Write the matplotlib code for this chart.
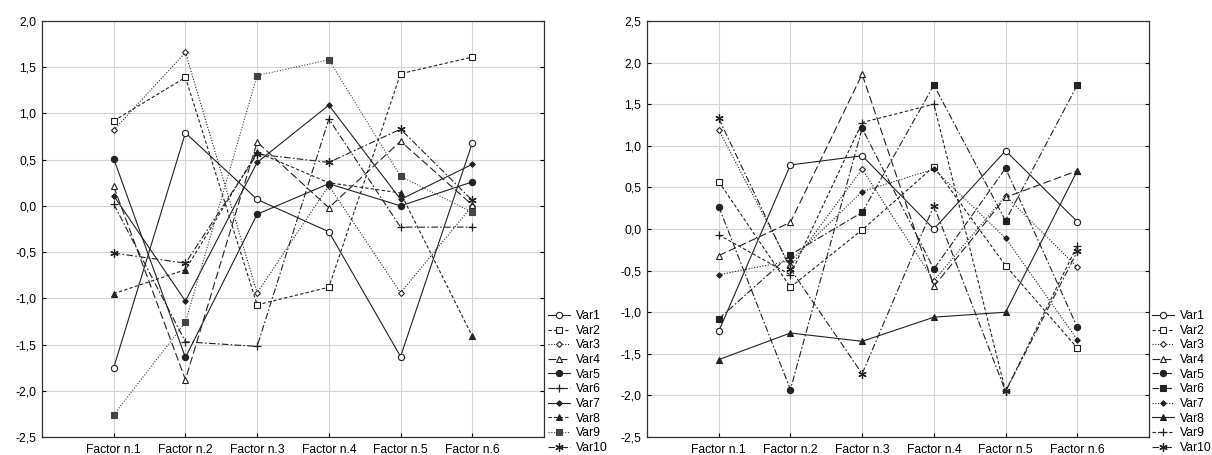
import matplotlib
matplotlib.use("Agg")
import matplotlib.pyplot as plt
from matplotlib.ticker import FuncFormatter, MultipleLocator

plt.rcParams['font.family'] = ['Liberation Sans', 'DejaVu Sans']

factors = ["Factor n.1", "Factor n.2", "Factor n.3", "Factor n.4", "Factor n.5", "Factor n.6"]
var_names = ["Var1", "Var2", "Var3", "Var4", "Var5", "Var6", "Var7", "Var8", "Var9", "Var10"]

# Left panel values
left_var1 = [-1.75, 0.79, 0.07, -0.28, -1.63, 0.68]
left_var2 = [0.92, 1.39, -1.07, -0.88, 1.43, 1.61]
left_var3 = [0.82, 1.66, -0.94, 0.22, -0.94, 0.00]
left_var4 = [0.21, -1.88, 0.69, -0.02, 0.70, 0.01]
left_var5 = [0.51, -1.64, -0.09, 0.24, 0.00, 0.26]
left_var6 = [0.02, -1.47, -1.52, 0.94, -0.23, -0.23]
left_var7 = [0.11, -1.03, 0.47, 1.09, 0.07, 0.45]
left_var8 = [-0.95, -0.69, 0.58, 0.25, 0.14, -1.41]
left_var9 = [-2.26, -1.26, 1.41, 1.58, 0.32, -0.07]
left_var10 = [-0.51, -0.62, 0.56, 0.47, 0.83, 0.06]

# Right panel values
right_var1 = [-1.23, 0.77, 0.88, 0.00, 0.94, 0.09]
right_var2 = [0.57, -0.70, -0.01, 0.75, -0.44, -1.43]
right_var3 = [1.19, -0.45, 0.72, -0.62, 0.40, -0.46]
right_var4 = [-0.32, 0.08, 1.86, -0.69, 0.38, 0.70]
right_var5 = [0.27, -1.93, 1.21, -0.48, 0.73, -1.18]
right_var6 = [-1.08, -0.31, 0.20, 1.73, 0.10, 1.73]
right_var7 = [-0.55, -0.38, 0.45, 0.72, -0.11, -1.33]
right_var8 = [-1.57, -1.25, -1.35, -1.06, -1.00, 0.70]
right_var9 = [-0.07, -0.55, 1.28, 1.50, -1.95, -0.20]
right_var10 = [1.33, -0.48, -1.74, 0.28, -1.95, -0.27]

left_values = [left_var1, left_var2, left_var3, left_var4, left_var5,
               left_var6, left_var7, left_var8, left_var9, left_var10]
right_values = [right_var1, right_var2, right_var3, right_var4, right_var5,
                right_var6, right_var7, right_var8, right_var9, right_var10]

SOLID = '-'
DASH = (0, (3, 2))
DOT = (0, (1, 1.5))
LONG = (0, (7, 3))
DASHDOT = (0, (6, 2, 1.5, 2))

# (marker, filled, linestyle, ms, color)
left_styles = [
    ('o', False, SOLID, 4.5, '#222222'),
    ('s', False, DASH, 5, '#222222'),
    ('D', False, DOT, 3, '#222222'),
    ('^', False, LONG, 4.5, '#222222'),
    ('o', True, SOLID, 4.5, '#222222'),
    ('+', True, DASHDOT, 6, '#222222'),
    ('D', True, SOLID, 2.8, '#222222'),
    ('^', True, DASH, 4.5, '#222222'),
    ('s', True, DOT, 5, '#444444'),
    ('x', True, DASHDOT, 5, '#222222'),
]
right_styles = [
    ('o', False, SOLID, 4.5, '#222222'),
    ('s', False, DASH, 5, '#222222'),
    ('D', False, DOT, 3, '#222222'),
    ('^', False, LONG, 4.5, '#222222'),
    ('o', True, DASHDOT, 4.5, '#222222'),
    ('s', True, DASHDOT, 5, '#222222'),
    ('D', True, DOT, 2.8, '#222222'),
    ('^', True, SOLID, 4.5, '#222222'),
    ('+', True, DASH, 6, '#222222'),
    ('x', True, DASHDOT, 5, '#222222'),
]

fig = plt.figure(figsize=(12.12, 4.55), dpi=100)
ax1 = fig.add_axes([42/1212, 1-437/455, 502/1212, 416/455])
ax2 = fig.add_axes([647/1212, 1-437/455, 502/1212, 416/455])

fmt = FuncFormatter(lambda v, p: f"{v:.1f}".replace('.', ','))
xpos = list(range(1, len(factors) + 1))


def draw(ax, values, styles, ylim, legend_anchor):
    handles = []
    for name, vals, (mk, filled, ls, ms, color) in zip(var_names, values, styles):
        if mk == 'x':
            h, = ax.plot(xpos, vals, linestyle=ls, color=color, lw=0.8,
                         marker=(6, 2, 0), ms=ms + 1, mew=0.9, label=name)
        elif mk == '+':
            h, = ax.plot(xpos, vals, linestyle=ls, color=color, lw=0.8,
                         marker='+', ms=ms, mew=0.9, label=name)
        else:
            h, = ax.plot(xpos, vals, linestyle=ls, color=color, lw=0.8,
                         marker=mk, ms=ms, mew=0.8,
                         mfc=color if filled else 'white', mec=color,
                         label=name)
        handles.append(h)
    ax.set_xlim(0, 7)
    ax.set_ylim(*ylim)
    ax.set_xticks(xpos)
    ax.set_xticklabels(factors, fontsize=8.7)
    ax.yaxis.set_major_locator(MultipleLocator(0.5))
    ax.yaxis.set_major_formatter(fmt)
    ax.tick_params(axis='y', labelsize=8.7, direction='in', length=3,
                   right=True, left=True, pad=4)
    ax.tick_params(axis='x', direction='in', length=3, pad=5)
    ax.grid(True, color='#d4d4d4', lw=0.8)
    ax.set_axisbelow(True)
    for s in ax.spines.values():
        s.set_color('#333333')
        s.set_linewidth(0.9)
    fig.legend(handles=handles, loc='lower left', bbox_to_anchor=legend_anchor,
               frameon=False, fontsize=8.7, handlelength=1.8, handletextpad=0.5,
               labelspacing=0.22, borderaxespad=0, borderpad=0)


draw(ax1, left_values, left_styles, (-2.5, 2.0), (548/1212, 1/455))
draw(ax2, right_values, right_styles, (-2.5, 2.5), (1152/1212, 1/455))

fig.savefig("out.png", dpi=100)
